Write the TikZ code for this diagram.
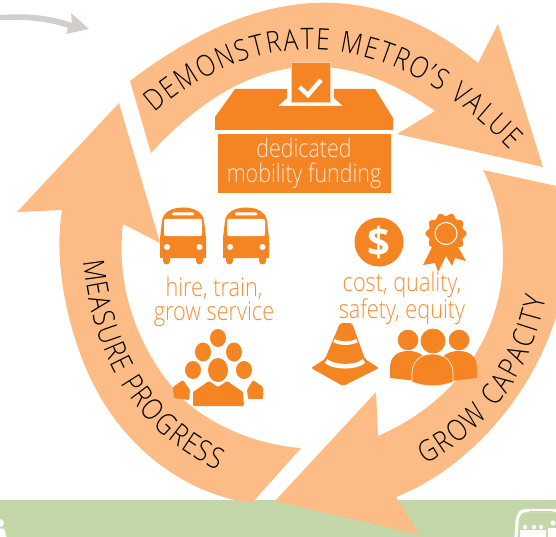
\documentclass[tikz,border=0pt]{standalone}
\usepackage{fontspec}
\usetikzlibrary{decorations.text}
\newfontfamily\lightf[FakeStretch=.84]{Open Sans Light}
\newfontfamily\boldf{Open Sans}
\definecolor{peach}{HTML}{FDBC85}
\definecolor{iconor}{HTML}{F58523}
\definecolor{textor}{HTML}{F68E35}
\definecolor{band}{HTML}{C3D7A8}
\definecolor{greyar}{HTML}{D2CECB}
\definecolor{cream}{HTML}{FDE6D2}
\tikzset{
  loop/.style={fill=peach,draw=none},
  icon/.style={fill=iconor,draw=none},
  hole/.style={fill=white,draw=none},
  caption/.style={text=textor,font=\lightf\fontsize{25.8}{24}\selectfont,align=center,inner sep=0pt},
  inbox/.style={text=cream,font=\lightf\fontsize{25.5}{25}\selectfont,align=center,inner sep=0pt},
  alongtext/.style={decorate,decoration={text along path,text align={fit to path},
     text={|\lightf\fontsize{29.5}{30}\selectfont\color{black}|#1}}}
}
\newcommand{\busicon}{%
  \path[icon] (160,258) -- (160,238) -- (162,221) .. controls (163,212) and (172,207.5) .. (183,207.5)
     .. controls (194,207.5) and (203,212) .. (204,221) -- (206,238) -- (206,258) -- cycle;
  \path[icon] (163,256) rectangle (170,261) (196,256) rectangle (203,261);
  \path[icon] (166.5,261) circle (3.5) (199.5,261) circle (3.5);
  \path[hole] (166,219) -- (200,219) .. controls (202,219) and (202,220) .. (202,222) -- (202,234)
     .. controls (202,236) and (201,236) .. (199,236) -- (167,236) .. controls (165,236) and (164,236) .. (164,234)
     -- (164,222) .. controls (164,220) and (164,219) .. (166,219) -- cycle;
  \path[hole,rounded corners=1pt] (172,212.5) rectangle (194,215.5);
  \path[hole] (167,247) circle (3) (199.5,247) circle (3);
}
\begin{document}
\begin{tikzpicture}[x=1pt,y=-1pt]
\useasboundingbox (0,0) rectangle (556,537);
\clip (0,0) rectangle (556,537);
% ground band
\path[fill=band] (0,499.5) rectangle (556,537);
% grey arrow
\path[fill=greyar] (0,15) .. controls (25,13) and (50,15) .. (72,23) -- (71,13) -- (89,29) -- (66,34) -- (68,28)
   .. controls (48,21) and (25,19) .. (0,20) -- cycle;
% white marks on band
\path[hole] (0,523) circle (4);
\path[hole] (0,528.5) -- (4,528.5) -- (6.5,537) -- (0,537) -- cycle;
\draw[white,line width=3.2pt,line join=round] (516,537) -- (517,522) .. controls (518,513) and (521,510.5) .. (527,510.5) -- (556,510.5);
\path[fill=band] (529,511) rectangle (553,512);
\path[hole] (525,527) circle (2.2) (534,527) circle (2.2) (541,527) circle (2.2) (553,523) circle (2.6);
\path[hole] (520,530) rectangle (546,537) (548,528) rectangle (556,537);
% top arrow
\path[loop] (130,81) .. controls (258,-17) and (374,-23) .. (478,63) -- (498,24) -- (543,167) -- (397,134) -- (435,111)
   .. controls (336,40) and (242,54) .. (151,153) -- cycle;
% right arrow
\path[loop] (483,170) -- (575,190) -- (575,270) -- (556,317) .. controls (530,400) and (465,470) .. (396,497)
   -- (420,535) -- (275,501) -- (376,392) -- (378,436) .. controls (465,398) and (503,325) .. (503,257)
   .. controls (503,228) and (497,198) .. (483,170) -- cycle;
% left arrow
\path[loop] (252,503) .. controls (190,495) and (135,455) .. (102,400) .. controls (72,350) and (52,270) .. (62,210)
   -- (17,212) -- (119,103) -- (160,243) -- (123,224) .. controls (115,290) and (140,355) .. (184,400)
   .. controls (215,428) and (260,445) .. (301,448) -- cycle;
% ring labels
\path[alongtext={DEMONSTRATE METRO’S VALUE}] (155,113) .. controls (250,30) and (380,15) .. (510,150);
\path[alongtext={MEASURE PROGRESS}] (83,261) .. controls (94,361) and (136,432) .. (218,470);
\path[alongtext={GROW CAPACITY}] (425,464) .. controls (489,430) and (530,377) .. (546,298);
% ballot box
\path[icon] (235,89) -- (287,89) -- (287,98) -- (278,106) -- (343,106) -- (334,98) -- (334,89) -- (375,89)
   -- (393,118) -- (393,130) -- (215,130) -- (215,117) -- cycle;
\path[fill=iconor,draw=peach!70!white,line width=.5pt] (291,62) rectangle (330,102);
\draw[white,line width=4.4pt] (299.5,87) -- (308,95) -- (321,80);
\path[icon] (218,134) rectangle (391,193);
\node[inbox] (fund) at (304,163.5) {dedicated\\mobility funding};
% buses
\busicon
\begin{scope}[shift={(63,0)}]\busicon\end{scope}
\node[caption] (hire) at (214,302) {hire, train,\\grow service};
\node[caption] (cost) at (402,298) {cost, quality,\\safety, equity};
% dollar
\path[icon] (379,242) circle (24.5);
\node[text=white,font=\boldf\bfseries\fontsize{40}{40}\selectfont,inner sep=0pt] (dollar) at (379,242) {\$};
% rosette
\path[icon] (433,245) -- (423,265) -- (435,263) -- (438,272) -- (446,256) -- (452,266) -- (455,258) -- (466,261) -- (457,245) -- cycle;
\path[icon] plot[domain=0:360,samples=121,smooth] ({446+(19+1.6*cos(10*\x))*cos(\x)},{233.5+(19+1.6*cos(10*\x))*sin(\x)}) -- cycle;
\draw[white,line width=1pt] (446,233.5) circle (11);
% cone
\path[icon,rounded corners=2pt] (340,323) -- (352,323) -- (365,359) -- (379,368) -- (343,386) -- (311,368) -- (325,359) -- cycle;
\draw[white,line width=3.6pt] (334,340.5) .. controls (340,344) and (351,344) .. (357,340.5);
\draw[white,line width=4.6pt] (326,361) .. controls (334,368) and (356,368) .. (364,361);
% group
\path[icon] (408,340) circle (10.3) (459,340) circle (10.3);
\path[icon] (390,378) -- (390,368) .. controls (390,357) and (397,351) .. (408,351) .. controls (420,351) and (426,356) .. (430,368) -- (425,382) -- cycle;
\path[icon] (477,378) -- (477,368) .. controls (477,357) and (470,351) .. (459,351) .. controls (447,351) and (441,356) .. (437,368) -- (442,382) -- cycle;
\path[icon] (433,341) circle (12.5);
\path[fill=iconor,draw=cream,line width=.8pt] (412,382) -- (412,373) .. controls (412,361) and (421,354) .. (432.5,354)
   .. controls (444,354) and (453,361) .. (453,373) -- (453,382) .. controls (440,387) and (425,387) .. (412,382) -- cycle;
% crowd
\path[icon] (218,338) ellipse (8 and 9) (203,352) ellipse (8 and 9.5) (234,352) ellipse (8 and 9.5)
   (193,370) ellipse (8 and 9) (244,370) ellipse (8 and 9) (218,370) ellipse (10 and 12);
\path[icon,rounded corners=1pt] (209,381) -- (218,387) -- (227,381) -- (243,392) -- (244,406) -- (193,406) -- (193,392) -- cycle;
\path[icon,rounded corners=1pt] (183,380) -- (173,387) -- (174,398) -- (189,400) -- (190,390) -- cycle;
\path[icon,rounded corners=1pt] (253,380) -- (263,387) -- (263,399) -- (248,399) -- (247,390) -- cycle;
\end{tikzpicture}
\end{document}
